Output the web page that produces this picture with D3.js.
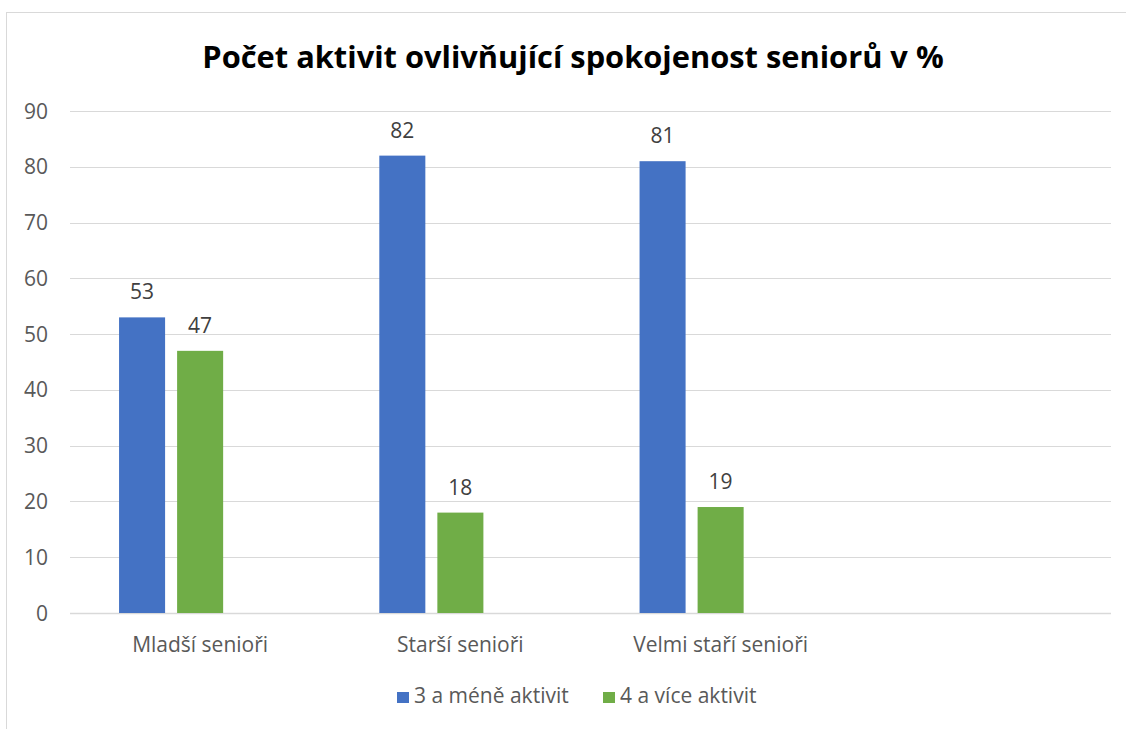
<!DOCTYPE html>
<html>
<head>
<meta charset="utf-8">
<script src="https://cdn.jsdelivr.net/npm/d3@7"></script>
<style>
  body { margin: 0; background: #fff; }
  text { font-family: "Open Sans", Lato, sans-serif; }
</style>
</head>
<body>
<div id="chart"></div>
<script>
const categories = ["Mladší senioři", "Starší senioři", "Velmi staří senioři", ""];
const seriesNames = ["3 a méně aktivit", "4 a více aktivit"];
const lessValues = [53, 82, 81];
const moreValues = [47, 18, 19];
const yTicks = [0, 10, 20, 30, 40, 50, 60, 70, 80, 90];
const colors = ["#4472C4", "#70AD47"];

const width = 1126;
const height = 729;

const svg = d3
  .select("#chart")
  .append("svg")
  .attr("width", width)
  .attr("height", height);

// chart frame
svg.append("rect")
  .attr("x", 6.5)
  .attr("y", 12.5)
  .attr("width", width + 20)
  .attr("height", height + 20)
  .attr("fill", "none")
  .attr("stroke", "#d9d9d9");

svg.append("text")
  .attr("x", 573)
  .attr("y", 68)
  .attr("text-anchor", "middle")
  .style("font-size", "30.8px")
  .style("font-weight", "bold")
  .attr("fill", "#000")
  .text("Počet aktivit ovlivňující spokojenost seniorů v %");

const y = d3.scaleLinear().domain([0, 90]).range([613, 111]);
const x0 = d3.scaleBand().domain(categories).range([70, 1111]);
// three slots per category, the third stays empty
const x1 = d3.scaleBand().domain([0, 1, 2]).range([0, x0.bandwidth()])
  .paddingInner(0.207).paddingOuter(0.845);

svg.append("g")
  .selectAll("line")
  .data(yTicks)
  .enter()
  .append("line")
  .attr("x1", 70)
  .attr("x2", 1111)
  .attr("y1", (d) => Math.round(y(d)) + 0.5)
  .attr("y2", (d) => Math.round(y(d)) + 0.5)
  .attr("stroke", "#d9d9d9")
  .attr("stroke-width", (d) => (d === 0 ? 1.5 : 1));

svg.append("g")
  .selectAll("text")
  .data(yTicks)
  .enter()
  .append("text")
  .attr("x", 48)
  .attr("y", (d) => y(d) + 7.5)
  .attr("text-anchor", "end")
  .attr("fill", "#595959")
  .style("font-size", "21px")
  .text((d) => d);

const series = [lessValues, moreValues];
series.forEach((vals, si) => {
  const g = svg.append("g");
  g.selectAll("rect")
    .data(vals)
    .enter()
    .append("rect")
    .attr("x", (d, i) => x0(categories[i]) + x1(si))
    .attr("y", (d) => y(d))
    .attr("width", x1.bandwidth())
    .attr("height", (d) => y(0) - y(d))
    .attr("fill", colors[si]);
  g.selectAll("text")
    .data(vals)
    .enter()
    .append("text")
    .attr("x", (d, i) => x0(categories[i]) + x1(si) + x1.bandwidth() / 2)
    .attr("y", (d) => y(d) - 18)
    .attr("text-anchor", "middle")
    .attr("fill", "#404040")
    .style("font-size", "21px")
    .text((d) => d);
});

svg.append("g")
  .selectAll("text")
  .data(categories.filter((c) => c))
  .enter()
  .append("text")
  .attr("x", (d) => x0(d) + x0.bandwidth() / 2)
  .attr("y", 652)
  .attr("text-anchor", "middle")
  .attr("fill", "#595959")
  .style("font-size", "21px")
  .text((d) => d);

// legend
const legendX = [397, 603];
seriesNames.forEach((name, i) => {
  svg.append("rect")
    .attr("x", legendX[i])
    .attr("y", 692)
    .attr("width", 12)
    .attr("height", 11)
    .attr("fill", colors[i]);
  svg.append("text")
    .attr("x", legendX[i] + 17)
    .attr("y", 703)
    .attr("fill", "#595959")
    .style("font-size", "21px")
    .text(name);
});
</script>
</body>
</html>
